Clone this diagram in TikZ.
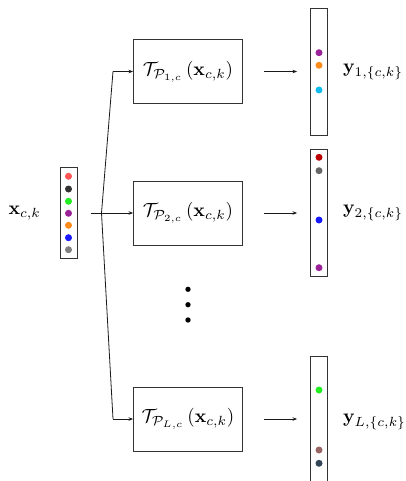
\documentclass[tikz,border=0pt]{standalone}
\usetikzlibrary{arrows.meta}
\newcommand{\scm}[1]{\scalebox{1.9}{$#1$}}
\begin{document}
\begin{tikzpicture}[x=1pt,y=-1pt,
  lbl/.style={inner sep=0pt},
  fbox/.style={draw=black!80,line width=0.9pt,minimum width=109pt,minimum height=64pt,inner sep=0pt},
  vecbox/.style={draw=black!80,line width=0.9pt,minimum width=17pt,inner sep=0pt},
  dot/.style={circle,fill=#1,inner sep=0pt,minimum size=7pt},
  wire/.style={line width=0.8pt,draw=black!90},
  conn/.style={wire,-{Stealth[length=4.5pt,width=3.5pt]}},
  vdot/.style={circle,fill=black,inner sep=0pt,minimum size=5.3pt}]
\useasboundingbox (0,0) rectangle (405,481);
\clip (0,0) rectangle (405,481);
\definecolor{cRed}{HTML}{FF5555}
\definecolor{cDark}{HTML}{333333}
\definecolor{cGreen}{HTML}{22EE22}
\definecolor{cPurple}{HTML}{992299}
\definecolor{cOrange}{HTML}{FF8C1A}
\definecolor{cBlue}{HTML}{1A1AFF}
\definecolor{cGray}{HTML}{808080}
\definecolor{cCyan}{HTML}{11BBEE}
\definecolor{cDRed}{HTML}{BB0000}
\definecolor{cGray2}{HTML}{666666}
\definecolor{cBrown}{HTML}{996666}
\definecolor{cSlate}{HTML}{334455}

% input vector
\node[vecbox,minimum height=91pt] (in) at (68.5,213) {};
\node[dot=cRed] (i1) at (68.5,176.3) {};
\node[dot=cDark] (i2) at (68.5,189) {};
\node[dot=cGreen] (i3) at (68.5,201.3) {};
\node[dot=cPurple] (i4) at (68.5,213.3) {};
\node[dot=cOrange] (i5) at (68.5,225.3) {};
\node[dot=cBlue] (i6) at (68.5,237.7) {};
\node[dot=cGray] (i7) at (68.5,249.7) {};
\node[lbl,anchor=east] (xl) at (41,213) {\scm{\mathbf{x}_{c,k}}};

% function boxes
\node[fbox] (f1) at (188,71.5) {\scm{\mathcal{T}_{\mathcal{P}_{1,c}}\left(\mathbf{x}_{c,k}\right)}};
\node[fbox] (f2) at (188,213) {\scm{\mathcal{T}_{\mathcal{P}_{2,c}}\left(\mathbf{x}_{c,k}\right)}};
\node[fbox] (f3) at (188,419) {\scm{\mathcal{T}_{\mathcal{P}_{L,c}}\left(\mathbf{x}_{c,k}\right)}};

% input connectors
\coordinate (s) at (90.5,213);
\coordinate (b) at (101.5,213);
\coordinate (u) at (113,71.5);
\coordinate (d) at (113,419);
\draw[conn] (s) -- (f2.west);
\draw[wire] (b) -- (u);
\draw[wire] (b) -- (d);
\draw[conn] (u) -- (f1.west);
\draw[conn] (d) -- (f3.west);

% vertical dots
\node[vdot] (v1) at (188,289.3) {};
\node[vdot] (v2) at (188,304.7) {};
\node[vdot] (v3) at (188,320) {};

% output vectors
\node[vecbox,minimum height=127pt] (o1) at (319,71.7) {};
\node[vecbox,minimum height=127pt] (o2) at (319,213) {};
\node[vecbox,minimum height=127pt] (o3) at (319,420) {};

\node[dot=cPurple] (p1) at (319,52.7) {};
\node[dot=cOrange] (p2) at (319,65.3) {};
\node[dot=cCyan] (p3) at (319,90) {};

\node[dot=cDRed] (q1) at (319,157.3) {};
\node[dot=cGray2] (q2) at (319,170.7) {};
\node[dot=cBlue] (q3) at (319,220) {};
\node[dot=cPurple] (q4) at (319,267.7) {};

\node[dot=cGreen] (r1) at (319,390) {};
\node[dot=cBrown] (r2) at (319,450) {};
\node[dot=cSlate] (r3) at (319,463.3) {};

% output connectors
\draw[conn] ([xshift=21pt]f1.east) -- ([xshift=-13pt]o1.west |- f1.east);
\draw[conn] ([xshift=21pt]f2.east) -- ([xshift=-13pt]o2.west |- f2.east);
\draw[conn] ([xshift=21pt]f3.east) -- ([xshift=-13pt]o3.west |- f3.east);

% output labels
\node[lbl,anchor=west] (y1) at (343,72) {\scm{\mathbf{y}_{1,\{c,k\}}}};
\node[lbl,anchor=west] (y2) at (343,213) {\scm{\mathbf{y}_{2,\{c,k\}}}};
\node[lbl,anchor=west] (y3) at (343,422) {\scm{\mathbf{y}_{L,\{c,k\}}}};
\end{tikzpicture}
\end{document}
